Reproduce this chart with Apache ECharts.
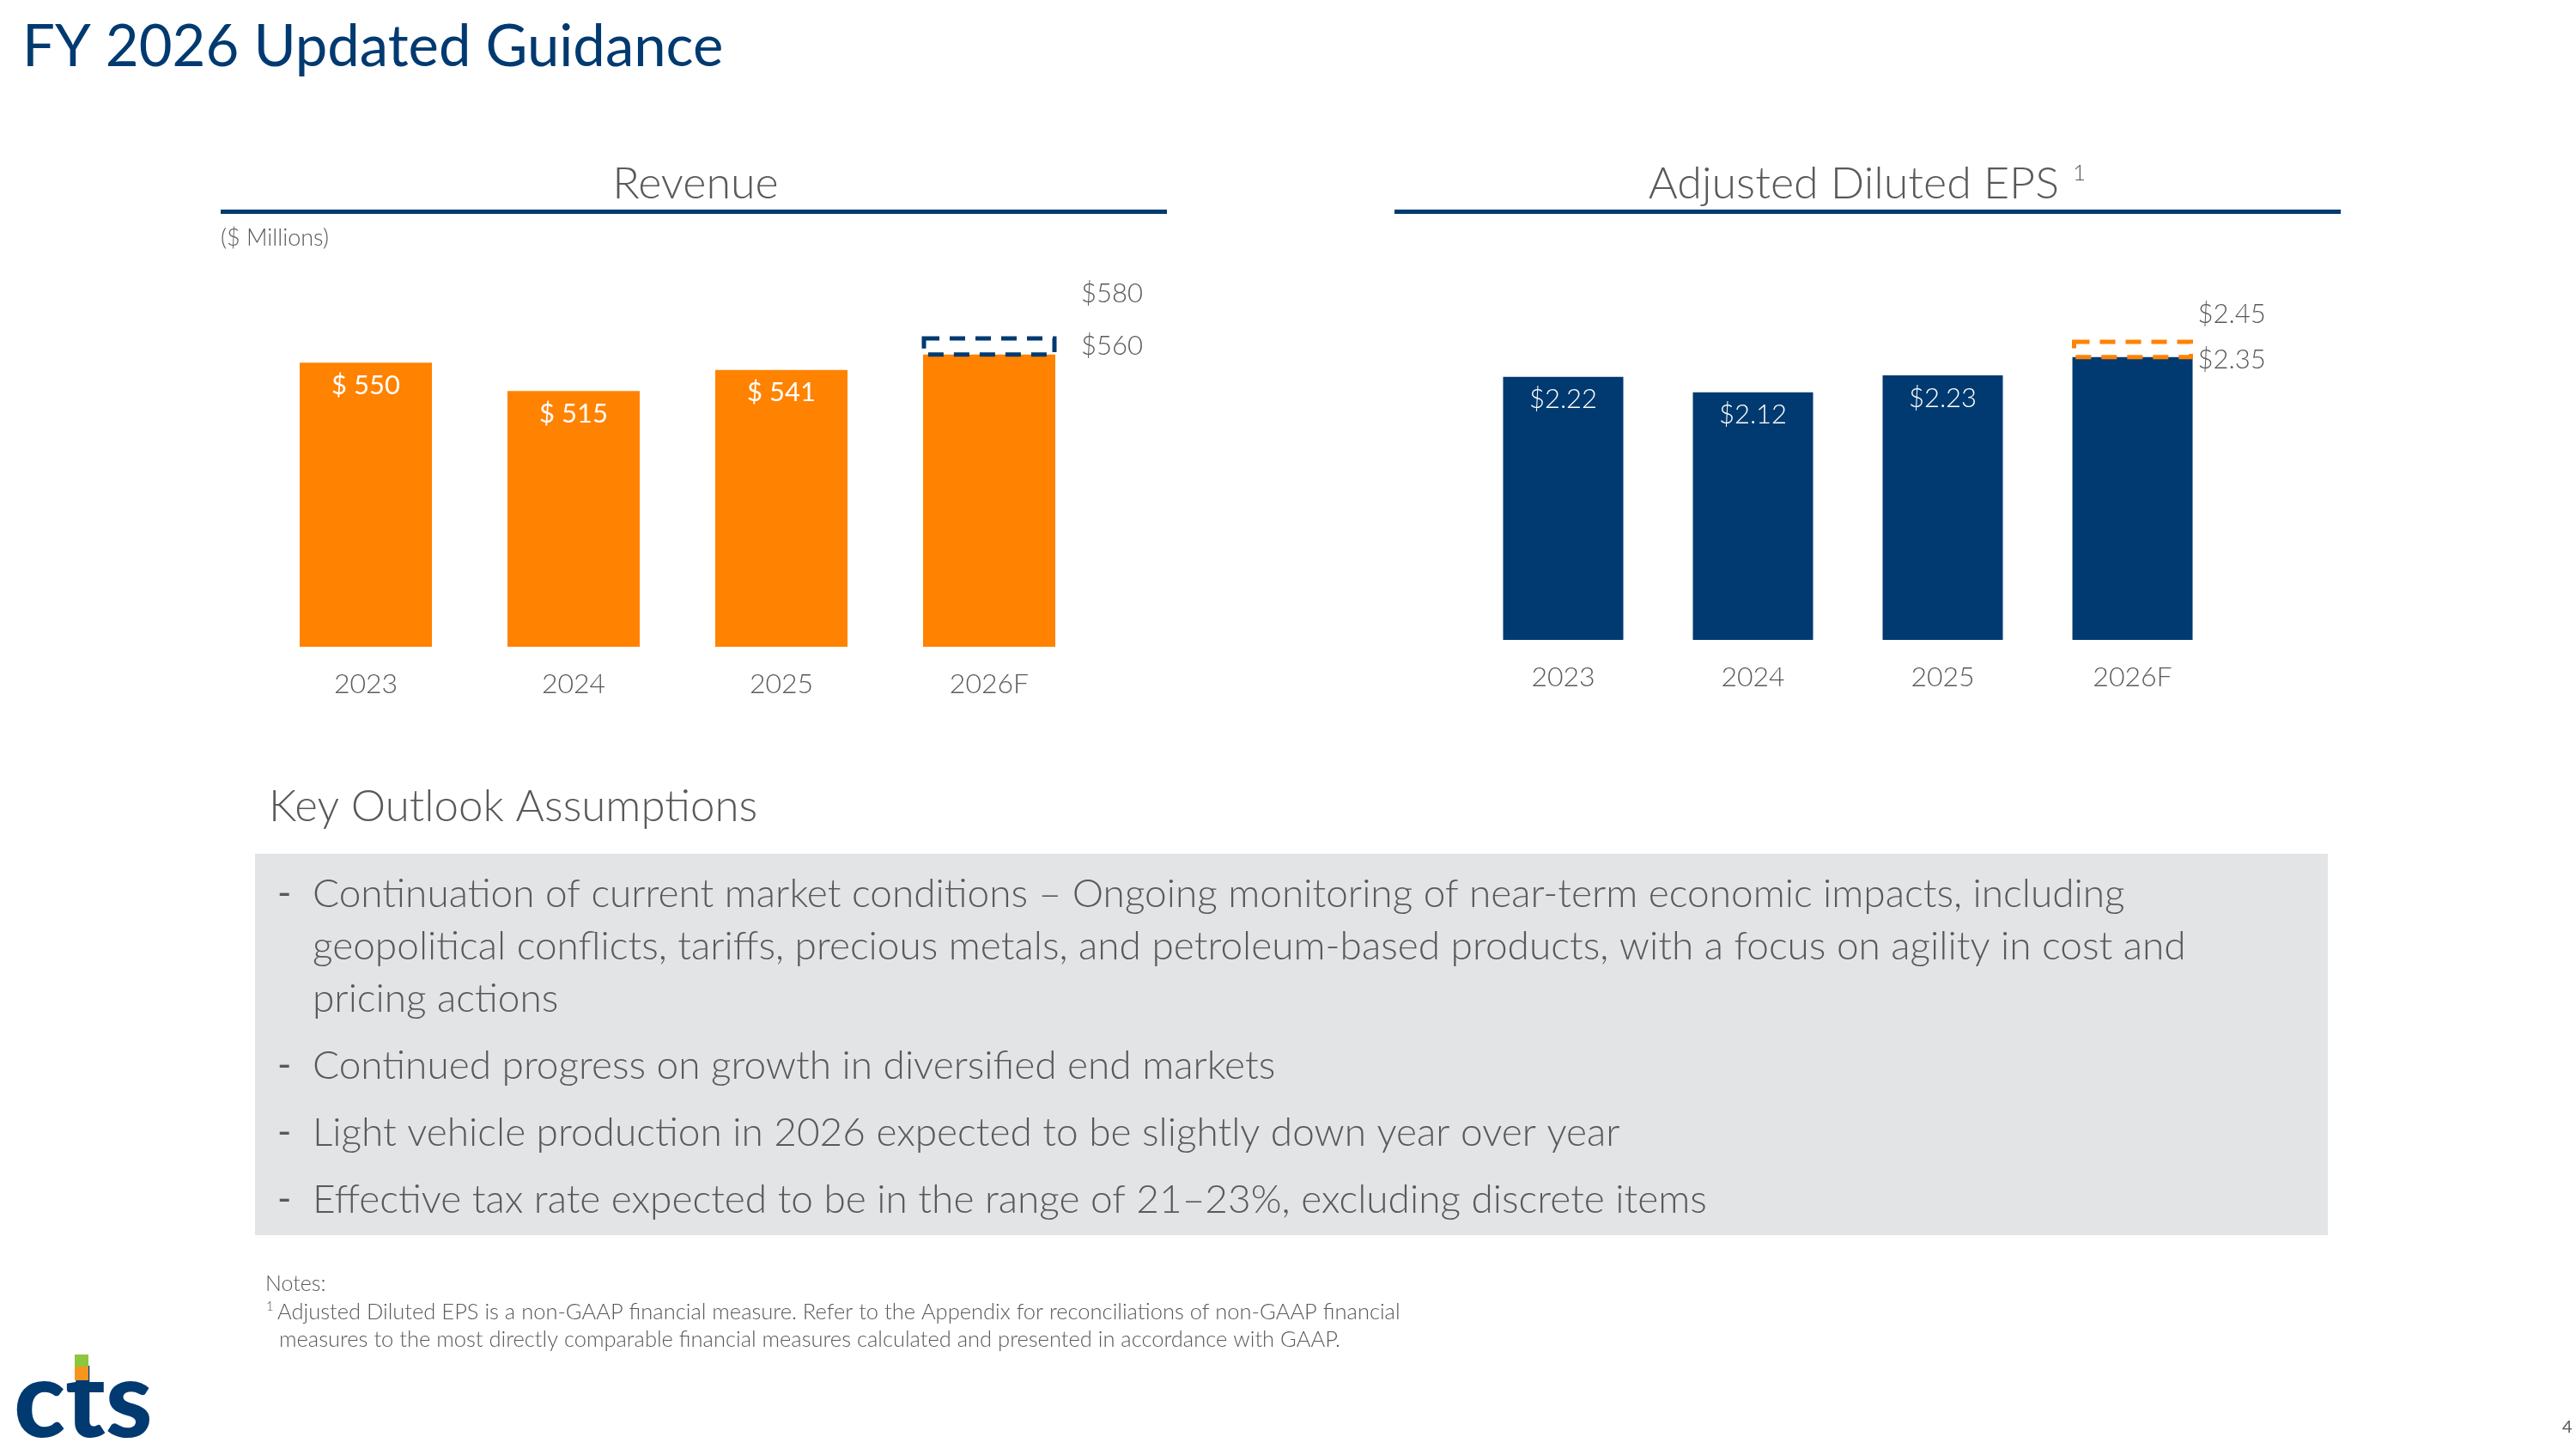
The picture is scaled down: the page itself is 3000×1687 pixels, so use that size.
<!DOCTYPE html>
<html>
<head>
<meta charset="utf-8">
<script src="https://cdn.jsdelivr.net/npm/echarts@6/dist/echarts.min.js"></script>
<style>
html, body { margin: 0; padding: 0; background: #fff; }
#main { width: 3000px; height: 1687px; }
</style>
</head>
<body>
<div id="main"></div>
<script>
// chart data
var years = ['2023', '2024', '2025', '2026F'];
var revenue = [550, 515, 541, 560];
var revenueGuide = [560, 580];
var eps = [2.22, 2.12, 2.23, 2.35];
var epsGuide = [2.35, 2.45];

var assumptions = [
    ['Continuation of current market conditions \u2013 Ongoing monitoring of near-term economic impacts, including',
     'geopolitical conflicts, tariffs, precious metals, and petroleum-based products, with a focus on agility in cost and',
     'pricing actions'],
    ['Continued progress on growth in diversified end markets'],
    ['Light vehicle production in 2026 expected to be slightly down year over year'],
    ['Effective tax rate expected to be in the range of 21\u201323%, excluding discrete items']
];

var NAVY = '#003a70';
var ORANGE = '#ff8200';
var GREY = '#595959';
var FONT = 'Lato';

var chart = echarts.init(document.getElementById('main'));

function guideBox(idx, range, color, boxW, fmt, lab) {
    return {
        type: 'custom',
        xAxisIndex: idx,
        yAxisIndex: idx,
        z: 10,
        encode: {x: 0, y: [1, 2]},
        data: [[years[years.length - 1], range[0], range[1]]],
        renderItem: function (params, api) {
            var lo = api.coord([api.value(0), api.value(1)]);
            var hi = api.coord([api.value(0), api.value(2)]);
            var txt = {fill: GREY, fontSize: 31, fontFamily: FONT, fontWeight: 300, verticalAlign: 'middle'};
            return {
                type: 'group',
                children: [
                    {type: 'rect', shape: {x: lo[0] - boxW / 2, y: hi[1], width: boxW, height: lo[1] - hi[1]},
                     style: {fill: 'none', stroke: color, lineWidth: 5, lineDash: [18, 12]}},
                    {type: 'text', x: lo[0] + lab.dx, y: lo[1] + lab.low,
                     style: Object.assign({text: fmt(api.value(1))}, txt)},
                    {type: 'text', x: lo[0] + lab.dx, y: lo[1] + lab.high,
                     style: Object.assign({text: fmt(api.value(2))}, txt)}
                ]
            };
        }
    };
}

// the forecast bar carries no value label, the guidance box shows the range
function barLabel(fmt) {
    return function (p) {
        return p.dataIndex === years.length - 1 ? '' : fmt(p.value);
    };
}

var xLabel = {color: GREY, fontSize: 32, fontFamily: FONT, fontWeight: 300, margin: 28};

// text blocks
var graphics = [
    {type: 'text', left: 26, top: 22, style: {text: 'FY 2026 Updated Guidance', fill: NAVY, fontSize: 67, fontFamily: FONT}},
    {type: 'text', x: 810, y: 214, style: {text: 'Revenue', fill: GREY, fontSize: 52, fontFamily: FONT, fontWeight: 300, align: 'center', verticalAlign: 'middle'}},
    {type: 'rect', shape: {x: 257, y: 244, width: 1102, height: 5}, style: {fill: NAVY}},
    {type: 'text', x: 257, y: 277, style: {text: '($ Millions)', fill: GREY, fontSize: 27, fontFamily: FONT, fontWeight: 300, verticalAlign: 'middle'}},
    {type: 'text', x: 2398, y: 214, style: {text: 'Adjusted Diluted EPS', fill: GREY, fontSize: 52, fontFamily: FONT, fontWeight: 300, align: 'right', verticalAlign: 'middle'}},
    {type: 'text', x: 2414, y: 202, style: {text: '1', fill: GREY, fontSize: 26, fontFamily: FONT, fontWeight: 300, verticalAlign: 'middle'}},
    {type: 'rect', shape: {x: 1624, y: 244, width: 1102, height: 5}, style: {fill: NAVY}},
    {type: 'text', x: 313, y: 940, style: {text: 'Key Outlook Assumptions', fill: GREY, fontSize: 51, fontFamily: FONT, fontWeight: 300, verticalAlign: 'middle'}},
    {type: 'rect', shape: {x: 297, y: 994, width: 2414, height: 444}, style: {fill: '#e3e4e6'}},
    {type: 'text', x: 309, y: 1495, style: {text: 'Notes:', fill: GREY, fontSize: 25, fontFamily: FONT, fontWeight: 300, verticalAlign: 'middle'}},
    {type: 'text', x: 310, y: 1521, style: {text: '1', fill: GREY, fontSize: 15, fontFamily: FONT, fontWeight: 300, verticalAlign: 'middle'}},
    {type: 'text', x: 323, y: 1528, style: {text: 'Adjusted Diluted EPS is a non-GAAP financial measure. Refer to the Appendix for reconciliations of non-GAAP financial', fill: GREY, fontSize: 25.5, fontFamily: FONT, fontWeight: 300, verticalAlign: 'middle'}},
    {type: 'text', x: 325, y: 1560, style: {text: 'measures to the most directly comparable financial measures calculated and presented in accordance with GAAP.', fill: GREY, fontSize: 25.5, fontFamily: FONT, fontWeight: 300, verticalAlign: 'middle'}},
    {type: 'text', x: 2984, y: 1662, style: {text: '4', fill: GREY, fontSize: 20, fontFamily: FONT, verticalAlign: 'middle'}},
    // logo
    {type: 'text', x: 16, y: 1633, style: {text: 'cts', fill: NAVY, fontSize: 124, fontFamily: FONT, fontWeight: 900, verticalAlign: 'middle'}},
    {type: 'rect', shape: {x: 87, y: 1577, width: 16, height: 14}, style: {fill: '#8dc63f'}},
    {type: 'rect', shape: {x: 87, y: 1591, width: 16, height: 16}, style: {fill: '#f7941d'}}
];

var lineY = 1041;
assumptions.forEach(function (lines) {
    graphics.push({type: 'text', x: 323, y: lineY, style: {text: '-', fill: GREY, fontSize: 44, fontFamily: FONT, verticalAlign: 'middle'}});
    lines.forEach(function (t) {
        graphics.push({type: 'text', x: 364, y: lineY, style: {text: t, fill: GREY, fontSize: 46, fontFamily: FONT, fontWeight: 300, verticalAlign: 'middle'}});
        lineY += 61;
    });
    lineY += 17;
});

var option = {
    animation: false,
    backgroundColor: '#fff',
    grid: [
        {left: 305, top: 375, width: 968, height: 378},
        {left: 1710, top: 389, width: 884, height: 356}
    ],
    xAxis: [
        {type: 'category', gridIndex: 0, data: years, axisLine: {show: false}, axisTick: {show: false}, axisLabel: xLabel},
        {type: 'category', gridIndex: 1, data: years, axisLine: {show: false}, axisTick: {show: false}, axisLabel: xLabel}
    ],
    yAxis: [
        {type: 'value', gridIndex: 0, min: 200, max: 600, show: false, splitLine: {show: false}},
        {type: 'value', gridIndex: 1, min: 0.5, max: 2.5, show: false, splitLine: {show: false}}
    ],
    series: [
        {
            name: 'Revenue',
            type: 'bar',
            xAxisIndex: 0,
            yAxisIndex: 0,
            barWidth: 154,
            data: revenue,
            itemStyle: {color: ORANGE},
            label: {
                show: true,
                position: 'insideTop',
                distance: 11,
                color: '#fff',
                fontSize: 31,
                fontFamily: FONT,
                formatter: barLabel(function (v) { return '$ ' + v; })
            }
        },
        {
            name: 'Adjusted Diluted EPS',
            type: 'bar',
            xAxisIndex: 1,
            yAxisIndex: 1,
            barWidth: 140,
            data: eps,
            itemStyle: {color: NAVY},
            label: {
                show: true,
                position: 'insideTop',
                distance: 11,
                color: '#fff',
                fontSize: 31,
                fontFamily: FONT,
                fontWeight: 300,
                formatter: barLabel(function (v) { return '$' + v.toFixed(2); })
            }
        },
        guideBox(0, revenueGuide, NAVY, 152, function (v) { return '$' + v; }, {dx: 107, low: -10, high: -71}),
        guideBox(1, epsGuide, ORANGE, 136, function (v) { return '$' + v.toFixed(2); }, {dx: 76, low: 3, high: -50})
    ],
    graphic: graphics
};

chart.setOption(option);
</script>
</body>
</html>
